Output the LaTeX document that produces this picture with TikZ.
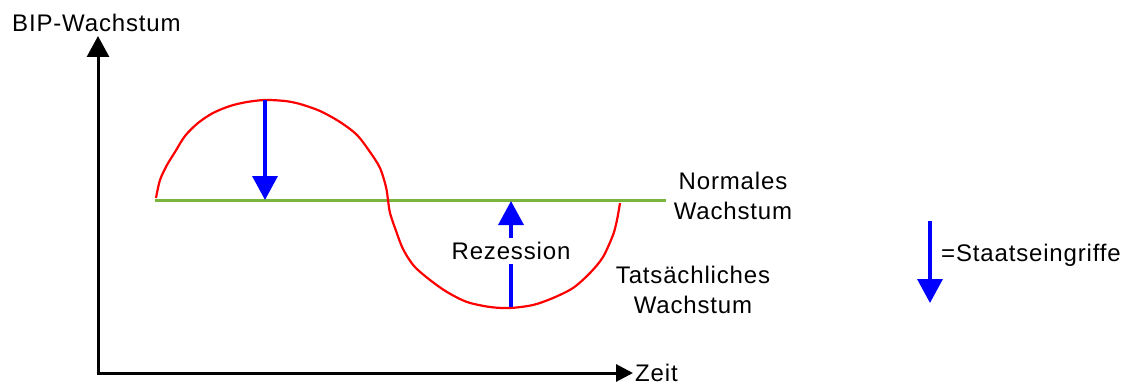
\documentclass[tikz,border=0pt]{standalone}
\usepackage{fontspec}
\setmainfont{Liberation Sans}[LetterSpace=3.5]
\usetikzlibrary{arrows.meta}
\definecolor{grn}{RGB}{122,182,62}
\tikzset{
  axis/.style={line width=3pt, -{Triangle[width=22pt,length=21pt]}},
  xaxis/.style={line width=3pt, -{Triangle[width=17pt,length=17pt]}},
  bluearr/.style={blue, line width=3.5pt, -{Triangle[width=25pt,length=24pt]}},
  lbl/.style={font=\fontsize{24}{30}\selectfont, inner sep=0pt},
}
\begin{document}
\begin{tikzpicture}[x=1pt,y=-1pt]
\useasboundingbox (0,0) rectangle (1127,385);
% axes
\coordinate (o) at (98,373);
\coordinate (ytip) at (98,36);
\coordinate (xtip) at (633,373);
\draw[axis] (o) -- (ytip);
\draw[xaxis] ([xshift=-1.5pt]o) -- (xtip);
\node[lbl, anchor=base west] (ylab) at (12,32) {BIP-Wachstum};
\node[lbl, anchor=base west] (xlab) at (635,381) {Zeit};
% normal growth line
\coordinate (g0) at (155,200);
\coordinate (g1) at (666,200);
\draw[grn, line width=3pt] (g0) -- (g1);
% actual growth curve
\draw[red, line width=2.2pt] plot[smooth, tension=0.5] coordinates {
 (156,198) (160,180) (167,165) (175,152) (185,136) (198,123) (213,113)
 (230,106) (247,102) (265,100) (285,101) (300,104) (320,111) (340,122)
 (357,135) (370,152) (380,168) (386,187) (388,200) (390,213) (395,228)
 (403,249) (414,266) (430,280) (447,292) (467,302) (490,307) (510,308)
 (533,305) (553,298) (573,288) (590,273) (603,257) (613,235) (617,220) (620,203)};
% intervention arrow (boom)
\coordinate (peak) at (265,100);
\coordinate (g2) at (265,200);
\draw[bluearr] (peak) -- (g2);
% recession arrow
\coordinate (trough) at (511,307);
\coordinate (g3) at (511,201);
\draw[bluearr] (trough) -- (g3);
\node[lbl, fill=white, inner ysep=4pt, inner xsep=2pt] (rez) at (511,251) {Rezession};
% labels
\node[lbl, align=center, anchor=north] (norm) at (733,172) {Normales\\Wachstum};
\node[lbl, align=center, anchor=north] (tats) at (693,266) {Tatsächliches\\Wachstum};
% legend
\coordinate (la) at (930,221);
\coordinate (lb) at (930,303);
\draw[bluearr] (la) -- (lb);
\node[lbl, anchor=base west] (leg) at (941,261) {=Staatseingriffe};
\end{tikzpicture}
\end{document}
